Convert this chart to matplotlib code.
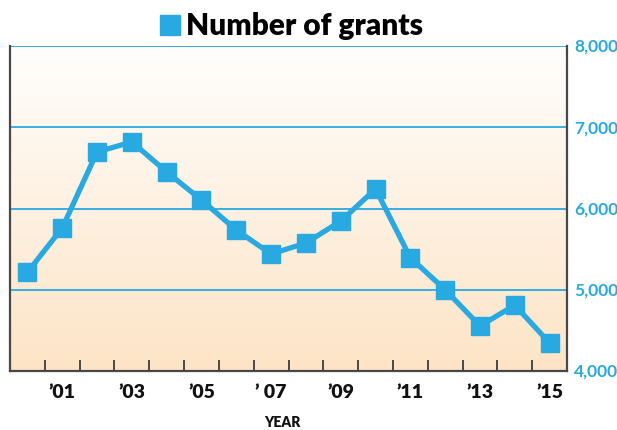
import matplotlib
matplotlib.use("Agg")
import matplotlib.pyplot as plt
import numpy as np
from matplotlib.colors import LinearSegmentedColormap

years = [2000, 2001, 2002, 2003, 2004, 2005, 2006, 2007, 2008, 2009, 2010, 2011, 2012, 2013, 2014, 2015]
grants = [5215, 5760, 6695, 6820, 6450, 6105, 5735, 5440, 5575, 5845, 6240, 5395, 5000, 4555, 4810, 4345]
label_years = [2001, 2003, 2005, 2007, 2009, 2011, 2013, 2015]
tick_labels = ["\u201901", "\u201903", "\u201905", "\u2019 07", "\u201909", "\u201911", "\u201913", "\u201915"]
y_ticks = [4000, 5000, 6000, 7000, 8000]
y_labels = ["4,000", "5,000", "6,000", "7,000", "8,000"]

BLUE = "#29a9e1"
FRAME = "#4a4846"
FONT = ["Lato", "DejaVu Sans"]

fig = plt.figure(figsize=(6.17, 4.31), dpi=100)
ax = fig.add_axes([10/617, 1 - 372/431, (567-10)/617, (372-47)/431])

ax.set_xlim(1999.5, 2015.5)
ax.set_ylim(4000, 8000)

# gradient background
cmap = LinearSegmentedColormap.from_list("bg", ["#fde4c6", "#fffefd"])
grad = np.linspace(0, 1, 256).reshape(-1, 1)
ax.imshow(grad, aspect="auto", cmap=cmap, origin="lower",
          extent=[0, 1, 0, 1], transform=ax.transAxes, zorder=0)

for v in [5000, 6000, 7000, 8000]:
    ax.axhline(v, color=BLUE, lw=1.3, zorder=1)

ax.plot(years, grants, color=BLUE, lw=3.8, marker="s", markersize=12.5,
        markerfacecolor=BLUE, markeredgecolor=BLUE, zorder=3, clip_on=False)

for side in ["left", "right", "bottom"]:
    ax.spines[side].set_color(FRAME)
    ax.spines[side].set_linewidth(1.6)
ax.spines["top"].set_visible(False)

ax.yaxis.tick_right()
ax.set_yticks(y_ticks)
ax.set_yticklabels(y_labels)
ax.tick_params(axis="y", length=0, pad=5, labelcolor=BLUE, labelsize=12.5)
for t in ax.get_yticklabels():
    t.set_fontfamily(FONT)
    t.set_fontweight("bold")
    t.set_verticalalignment("center")

ax.set_xticks(label_years)
ax.set_xticklabels(tick_labels)
ax.set_xticks(np.arange(2000.5, 2015, 1.0), minor=True)
ax.tick_params(axis="x", which="major", length=0, pad=9, labelsize=14, labelcolor="#111111")
ax.tick_params(axis="x", which="minor", direction="in", length=8, width=1.4, color=FRAME)
for t in ax.get_xticklabels():
    t.set_fontfamily(FONT)
    t.set_fontweight("heavy")

fig.text(282/617, 1 - 423/431, "YEAR", ha="center", va="center",
         fontsize=10, fontweight="heavy", family=FONT, color="#111111")

# legend
fig.patches.append(plt.Rectangle((160/617, 1 - 36/431), 20/617, 20/431,
                                 transform=fig.transFigure, color=BLUE, figure=fig))
fig.text(186/617, 1 - 26/431, "Number of grants", ha="left", va="center",
         fontsize=21.5, fontweight="heavy", family=FONT, color="#000000")

fig.savefig("out.png", dpi=100)
